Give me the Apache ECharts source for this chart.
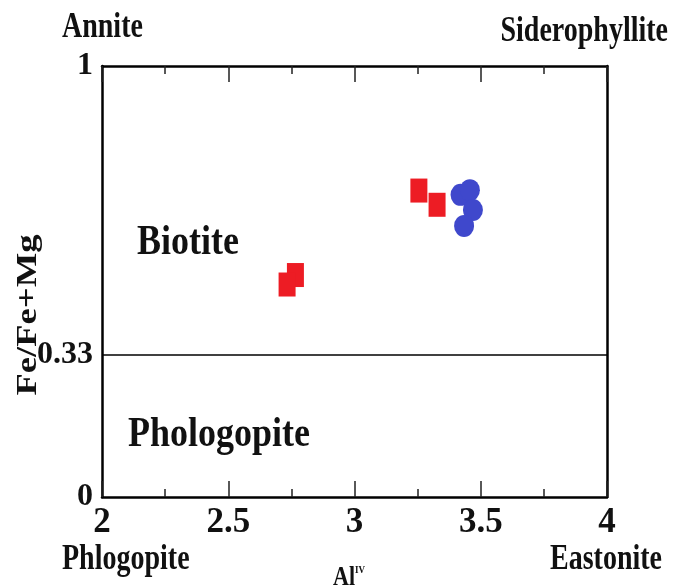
<!DOCTYPE html>
<html>
<head>
<meta charset="utf-8">
<script src="https://cdn.jsdelivr.net/npm/echarts@6/dist/echarts.min.js"></script>
<style>html,body{margin:0;padding:0;background:#fff}#c{width:673px;height:586px}</style>
</head>
<body>
<div id="c"></div>
<script>
// Data
const redAlIV = [2.766, 2.733, 3.255, 3.327];
const redFe   = [0.515, 0.493, 0.711, 0.678];
const blueAlIV = [3.420, 3.457, 3.469, 3.434];
const blueFe   = [0.701, 0.712, 0.666, 0.629];
const xTickLabels = [2, 2.5, 3, 3.5, 4];
const yTickLabels = [0, 0.33, 1];
const boundaryFe = 0.33;
const cornerNames = ['Annite', 'Siderophyllite', 'Phlogopite', 'Eastonite'];
const fieldNames = ['Biotite', 'Phologopite'];

const chart = echarts.init(document.getElementById('c'));
const serif = '"Liberation Serif", "Times New Roman", serif';
const ink = '#111';
const redPts = redAlIV.map((x, i) => [x, redFe[i]]);
const bluePts = blueAlIV.map((x, i) => [x, blueFe[i]]);

function txt(text, x, y, size, align, sy) {
  return {
    type: 'text', x: x, y: y, scaleY: sy, silent: true,
    style: { text: text, fill: ink, font: 'bold ' + size + 'px ' + serif, align: align, verticalAlign: 'middle' }
  };
}

const xAxisCommon = {
  type: 'value', min: 2, max: 4, interval: 0.5,
  axisLine: { show: true, onZero: false, lineStyle: { color: '#000', width: 2.5 } },
  axisTick: { show: true, inside: true, length: 16, lineStyle: { color: '#222', width: 1.5 } },
  minorTick: { show: true, splitNumber: 2, length: 8, lineStyle: { color: '#222', width: 1.5 } },
  splitLine: { show: false }
};

chart.setOption({
  animation: false,
  backgroundColor: '#fff',
  grid: { left: 102, right: 66, top: 66, bottom: 89 },
  xAxis: [
    Object.assign({}, xAxisCommon, {
      position: 'bottom',
      axisLabel: {
        show: true, margin: 8, color: ink, fontFamily: serif, fontWeight: 'bold', fontSize: 35,
        customValues: xTickLabels, formatter: v => String(v)
      }
    }),
    Object.assign({}, xAxisCommon, { position: 'top', axisLabel: { show: false } })
  ],
  yAxis: [
    {
      type: 'value', min: 0, max: 1, position: 'left',
      axisLine: { show: true, onZero: false, lineStyle: { color: '#000', width: 2.5 } },
      axisTick: { show: false },
      splitLine: { show: false },
      axisLabel: {
        show: true, margin: 9, color: ink, fontFamily: serif, fontWeight: 'bold', fontSize: 32,
        customValues: yTickLabels, formatter: v => String(v),
        rich: { top: { fontFamily: serif, fontWeight: 'bold', fontSize: 32, padding: [16, 4, 0, 0] } }
      }
    },
    {
      type: 'value', min: 0, max: 1, position: 'right',
      axisLine: { show: true, onZero: false, lineStyle: { color: '#000', width: 2.5 } },
      axisTick: { show: false }, axisLabel: { show: false }, splitLine: { show: false }
    }
  ],
  series: [
    {
      type: 'scatter', data: [], silent: true,
      markLine: {
        silent: true, symbol: 'none', label: { show: false },
        lineStyle: { color: '#000', width: 1.5, type: 'solid' },
        data: [{ yAxis: boundaryFe }]
      }
    },
    {
      name: 'red', type: 'scatter', symbol: 'rect', symbolSize: [17, 24],
      itemStyle: { color: '#ed1c24', opacity: 1 }, data: redPts
    },
    {
      name: 'blue', type: 'scatter', symbol: 'circle', symbolSize: [20, 22],
      itemStyle: { color: '#3f48cc', opacity: 1 }, data: bluePts
    }
  ],
  graphic: [
    txt(cornerNames[0], 62, 28, 28, 'left', 1.3),
    txt(cornerNames[1], 668, 32, 28, 'right', 1.3),
    txt(cornerNames[2], 62, 560, 28, 'left', 1.3),
    txt(cornerNames[3], 662, 560, 28, 'right', 1.3),
    txt(fieldNames[0], 137, 243, 36, 'left', 1.15),
    txt(fieldNames[1], 128, 435, 36, 'left', 1.15),
    {
      type: 'text', x: 28, y: 315, rotation: Math.PI / 2, scaleX: 1.22, silent: true,
      style: { text: 'Fe/Fe+Mg', fill: ink, font: 'bold 30px ' + serif, align: 'center', verticalAlign: 'middle' }
    },
    {
      type: 'text', x: 333, y: 578, scaleY: 1.25, silent: true,
      style: {
        text: '{a|Al}{s|IV}', fill: ink, align: 'left', verticalAlign: 'middle',
        rich: {
          a: { font: 'bold 22px ' + serif, fill: ink },
          s: { font: 'bold 9px ' + serif, fill: ink, padding: [0, 0, 12, 0] }
        }
      }
    }
  ]
});
</script>
</body>
</html>
